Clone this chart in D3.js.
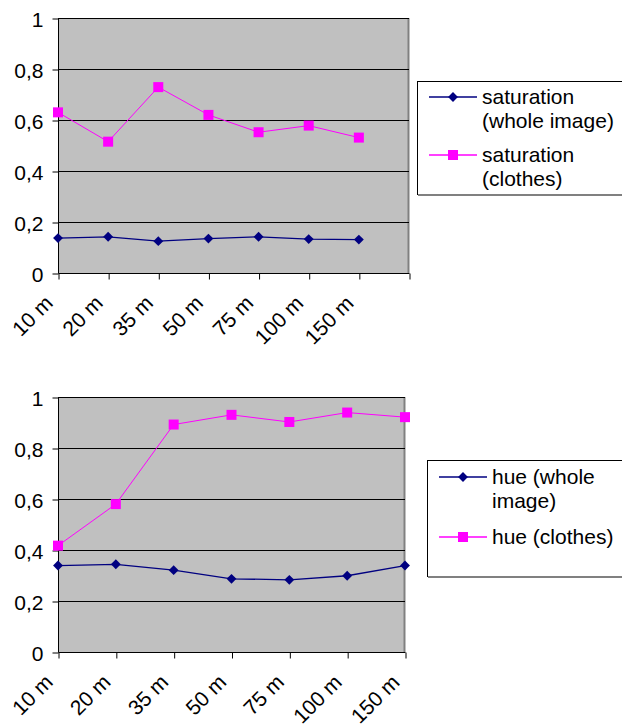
<!DOCTYPE html>
<html>
<head>
<meta charset="utf-8">
<script src="https://cdn.jsdelivr.net/npm/d3@7/dist/d3.min.js"></script>
<style>
  html, body { margin: 0; padding: 0; background: #fff; }
  svg text { font-family: "Liberation Sans", Arial, sans-serif; fill: #000; }
</style>
</head>
<body>
<svg id="chart" width="622" height="727"></svg>
<script>
// Distance categories shared by both panels
const categories = ["10 m", "20 m", "35 m", "50 m", "75 m", "100 m", "150 m"];
const yTicks = [0, 0.2, 0.4, 0.6, 0.8, 1];

// Saturation panel
const satWhole   = [0.137, 0.142, 0.125, 0.135, 0.142, 0.133, 0.131];
const satClothes = [0.630, 0.515, 0.729, 0.620, 0.552, 0.578, 0.531];
const satLabels  = [["saturation", "(whole image)"], ["saturation", "(clothes)"]];

// Hue panel
const hueWhole   = [0.339, 0.344, 0.321, 0.287, 0.283, 0.299, 0.339];
const hueClothes = [0.417, 0.580, 0.892, 0.930, 0.902, 0.939, 0.921];
const hueLabels  = [["hue (whole", "image)"], ["hue (clothes)"]];

const NAVY = "#000080", MAGENTA = "#ff00ff";
const FONT = 21;
const svg = d3.select("#chart");
const fmt = d => d === 0 ? "0" : d === 1 ? "1" : d3.format(".1f")(d).replace(".", ",");

function panel(opt) {
  const g = svg.append("g");
  const x = d3.scaleLinear().domain([0, opt.slots - 1]).range([opt.x0, opt.x1]);
  const y = d3.scaleLinear().domain([0, 1]).range([opt.y0, opt.y1]);

  // plot area background
  g.append("rect")
    .attr("x", opt.x0).attr("y", opt.y1)
    .attr("width", opt.x1 - opt.x0).attr("height", opt.y0 - opt.y1)
    .attr("fill", "#c0c0c0");
  // right border
  g.append("line")
    .attr("x1", opt.x1 - 0.5).attr("x2", opt.x1 - 0.5)
    .attr("y1", opt.y1).attr("y2", opt.y0)
    .attr("stroke", "#808080").attr("stroke-width", 2);

  // horizontal gridlines
  g.append("g").selectAll("line").data(yTicks.filter(v => v > 0)).join("line")
    .attr("x1", opt.x0).attr("x2", opt.x1)
    .attr("y1", d => Math.round(y(d)) + 0.5).attr("y2", d => Math.round(y(d)) + 0.5)
    .attr("stroke", "#000").attr("stroke-width", 1);

  // y axis
  const ya = g.append("g")
    .attr("transform", `translate(${opt.x0 + 0.5},0.5)`)
    .call(d3.axisLeft(y).tickValues(yTicks).tickFormat(fmt).tickSize(6).tickPadding(9));
  ya.select(".domain").attr("stroke", "#000").attr("d", `M0,${opt.y1 - 0.5}V${opt.y0}`);
  ya.selectAll(".tick line").attr("stroke", "#000");
  ya.selectAll("text").attr("font-size", FONT).attr("dy", "0.36em")
    .style("font-family", '"Liberation Sans", Arial, sans-serif');

  // x axis
  const xa = g.append("g")
    .attr("transform", `translate(0.5,${Math.round(opt.y0) + 0.5})`)
    .call(d3.axisBottom(x).tickValues(d3.range(opt.slots))
      .tickFormat(i => categories[i] || "").tickSize(6).tickSizeOuter(0));
  xa.select(".domain").attr("stroke", "#000").attr("d", `M${opt.x0},0H${opt.x1}`);
  xa.selectAll(".tick line").attr("stroke", "#000");
  xa.selectAll("text")
    .attr("font-size", FONT)
    .attr("text-anchor", "end")
    .attr("dy", null)
    .attr("y", 0)
    .attr("transform", "translate(-5,31) rotate(-45)")
    .style("font-family", '"Liberation Sans", Arial, sans-serif');

  // series
  const line = d3.line().x((d, i) => x(i)).y(d => y(d));
  g.append("path").datum(opt.whole).attr("d", line)
    .attr("fill", "none").attr("stroke", NAVY).attr("stroke-width", 1.3);
  g.append("path").datum(opt.clothes).attr("d", line)
    .attr("fill", "none").attr("stroke", MAGENTA).attr("stroke-width", 1);

  const diamond = d3.symbol().type(d3.symbolDiamond2).size(62);
  g.append("g").selectAll("path").data(opt.whole).join("path")
    .attr("d", diamond)
    .attr("transform", (d, i) => `translate(${x(i)},${y(d)})`)
    .attr("fill", NAVY);
  g.append("g").selectAll("rect").data(opt.clothes).join("rect")
    .attr("x", (d, i) => x(i) - 5).attr("y", d => y(d) - 5)
    .attr("width", 10).attr("height", 10)
    .attr("fill", MAGENTA);

  // legend
  const L = opt.legend;
  const lg = g.append("g");
  lg.append("rect")
    .attr("x", L.x + 0.5).attr("y", L.y + 0.5)
    .attr("width", 622 - L.x + 10).attr("height", L.h)
    .attr("fill", "#fff").attr("stroke", "#000").attr("stroke-width", 1);
  lg.append("line")
    .attr("x1", L.x + 1).attr("x2", 622)
    .attr("y1", L.y + L.h + 1).attr("y2", L.y + L.h + 1)
    .attr("stroke", "#808080").attr("stroke-width", 2);

  const items = [
    { color: NAVY, kind: "diamond", lines: opt.labels[0], cy: L.rows[0] },
    { color: MAGENTA, kind: "square", lines: opt.labels[1], cy: L.rows[1] }
  ];
  items.forEach(it => {
    lg.append("line")
      .attr("x1", L.x + 12).attr("x2", L.x + 60)
      .attr("y1", it.cy).attr("y2", it.cy)
      .attr("stroke", it.color).attr("stroke-width", 1.3);
    if (it.kind === "diamond") {
      lg.append("path").attr("d", diamond)
        .attr("transform", `translate(${L.x + 36},${it.cy})`).attr("fill", it.color);
    } else {
      lg.append("rect").attr("x", L.x + 31).attr("y", it.cy - 5)
        .attr("width", 10).attr("height", 10).attr("fill", it.color);
    }
    const t = lg.append("text")
      .attr("x", L.x + 65).attr("y", it.cy + 7)
      .attr("font-size", FONT);
    it.lines.forEach((s, k) => {
      t.append("tspan").attr("x", L.x + 65).attr("dy", k === 0 ? 0 : 23.5).text(s);
    });
  });
}

panel({
  slots: 8, x0: 58, x1: 409, y0: 273, y1: 18,
  whole: satWhole, clothes: satClothes, labels: satLabels,
  legend: { x: 417, y: 81, h: 113, rows: [97, 155] }
});

panel({
  slots: 7, x0: 58, x1: 405, y0: 652, y1: 397,
  whole: hueWhole, clothes: hueClothes, labels: hueLabels,
  legend: { x: 427, y: 460, h: 116, rows: [477, 537] }
});
</script>
</body>
</html>
